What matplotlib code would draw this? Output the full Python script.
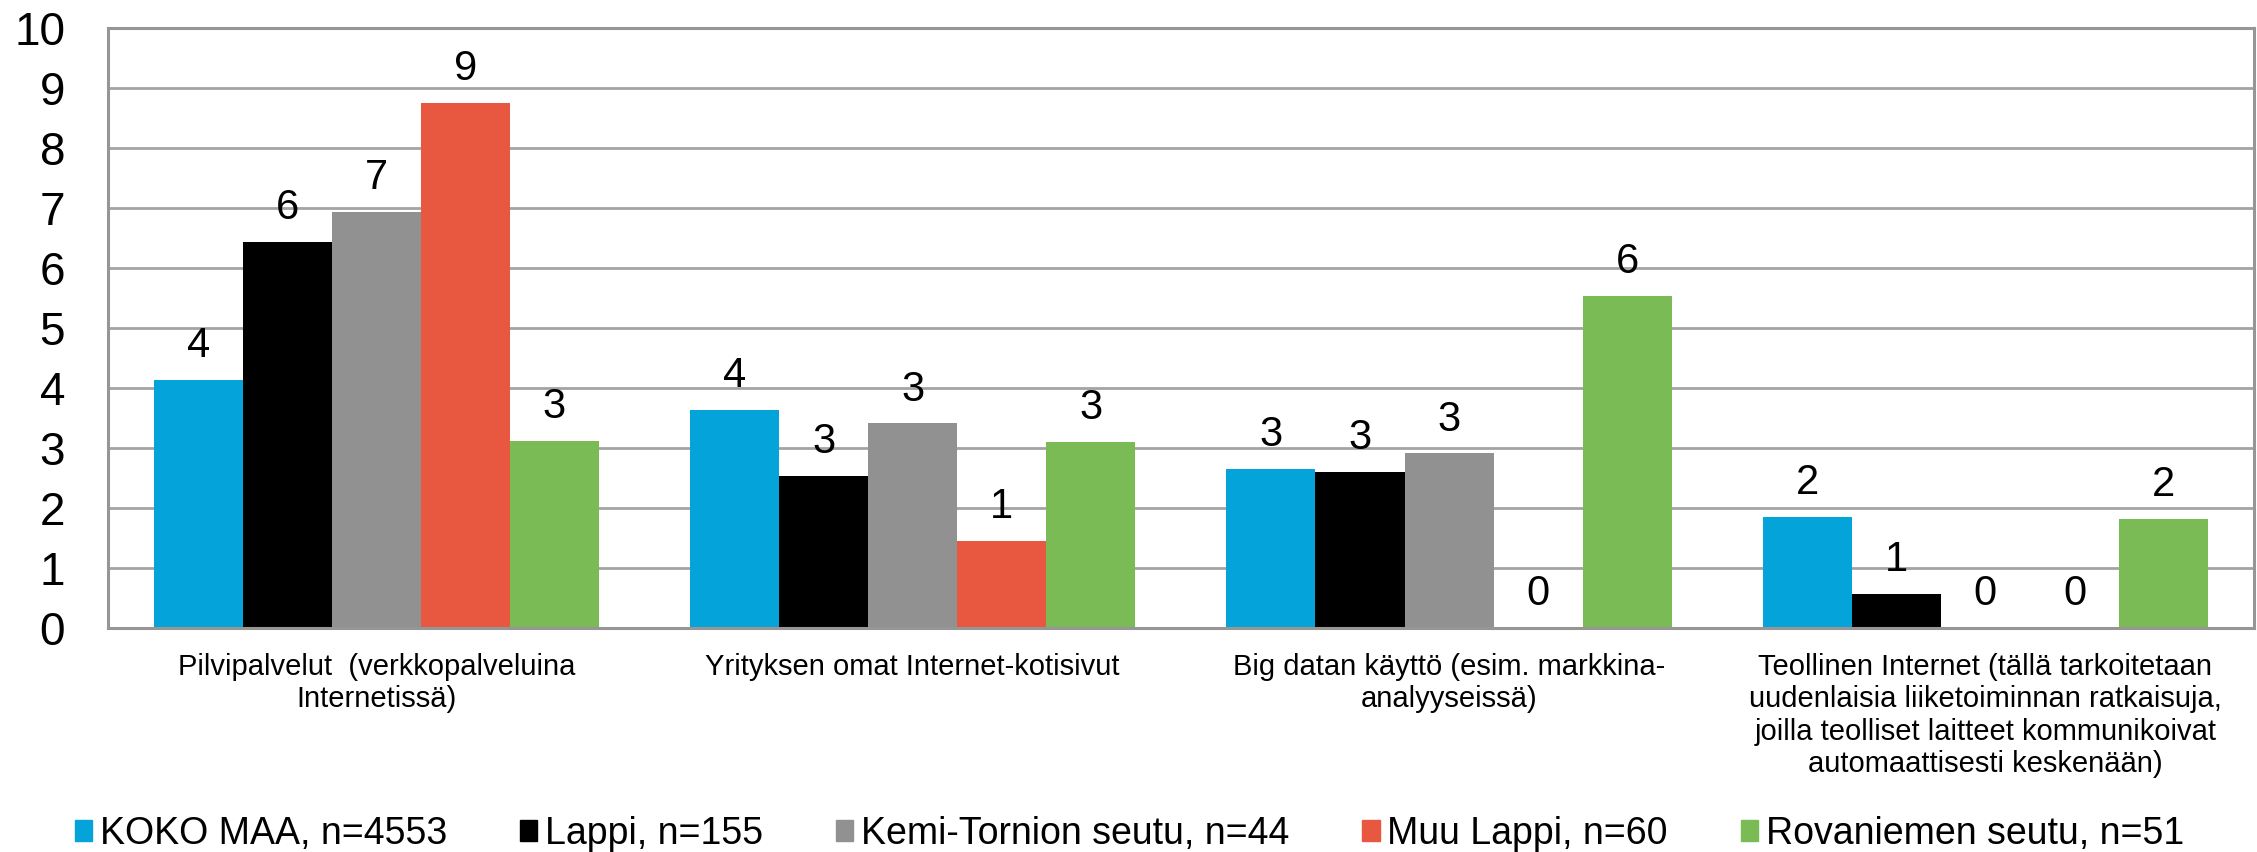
import numpy as np
import matplotlib.pyplot as plt
from matplotlib.patches import Patch

categories = [
    'Pilvipalvelut  (verkkopalveluina\nInternetissä)',
    'Yrityksen omat Internet-kotisivut',
    'Big datan käyttö (esim. markkina-\nanalyyseissä)',
    'Teollinen Internet (tällä tarkoitetaan\nuudenlaisia liiketoiminnan ratkaisuja,\n'
    'joilla teolliset laitteet kommunikoivat\nautomaattisesti keskenään)',
]
series_names = ['KOKO MAA, n=4553', 'Lappi, n=155', 'Kemi-Tornion seutu, n=44',
                'Muu Lappi, n=60', 'Rovaniemen seutu, n=51']
koko_maa = [4.13, 3.63, 2.65, 1.85]
lappi = [6.43, 2.53, 2.60, 0.57]
kemi_tornio = [6.93, 3.41, 2.91, 0.0]
muu_lappi = [8.75, 1.45, 0.0, 0.0]
rovaniemi = [3.12, 3.10, 5.53, 1.82]
colors = ['#04A3D9', '#000000', '#919191', '#E85840', '#7ABB55']

plt.rcParams['font.family'] = ['Liberation Sans', 'DejaVu Sans']

fig = plt.figure(figsize=(22.57, 8.52), dpi=100)
ax = fig.add_axes([0.0479, 0.2629, 0.9506, 0.7041])

all_series = [koko_maa, lappi, kemi_tornio, muu_lappi, rovaniemi]
x = np.arange(len(categories))
w = 0.166
for i, (vals, c) in enumerate(zip(all_series, colors)):
    bars = ax.bar(x + (i - 2) * w, vals, w, color=c, zorder=2)
    ax.bar_label(bars, fmt='%.0f', padding=10, fontsize=30)

ax.set_xlim(-0.5, 3.5)
ax.set_ylim(0, 10)
ax.set_yticks(range(0, 11))
ax.tick_params(axis='y', labelsize=33, length=0, pad=31)
ax.set_xticks(x)
ax.set_xticklabels(categories, fontsize=21, linespacing=1.2, va='top')
ax.tick_params(axis='x', length=0, pad=18)
ax.yaxis.grid(True, color='#A3A3A3', linewidth=2, zorder=0)
ax.set_axisbelow(True)
for s in ax.spines.values():
    s.set_color('#969696')
    s.set_linewidth(2.2)

handles = [Patch(color=c) for c in colors]
fig.legend(handles, series_names, loc='center left', bbox_to_anchor=(75 / 2257, 0.0217),
           ncol=5, frameon=False, fontsize=27, borderpad=0, borderaxespad=0,
           handlelength=0.46, handleheight=0.5, handletextpad=0.2, columnspacing=1.95)

fig.savefig('out.png', dpi=100)
